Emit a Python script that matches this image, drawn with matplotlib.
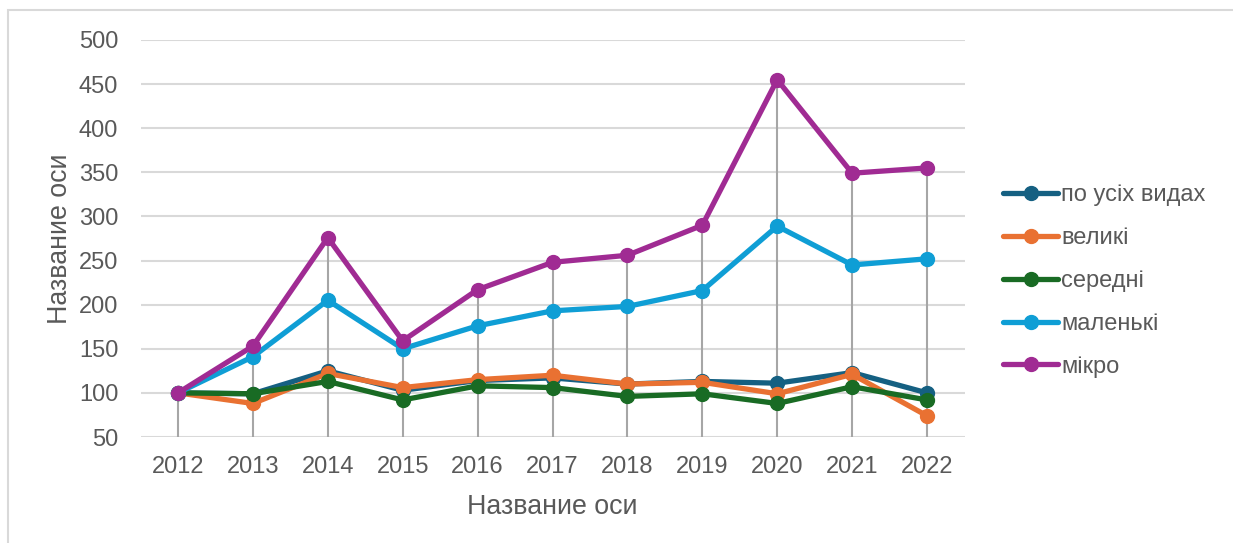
import matplotlib
matplotlib.use("Agg")
import matplotlib.pyplot as plt
import numpy as np
from matplotlib.patches import Rectangle

plt.rcParams['font.family'] = ['Liberation Sans', 'DejaVu Sans']

years = [2012, 2013, 2014, 2015, 2016, 2017, 2018, 2019, 2020, 2021, 2022]
series_names = ["по усіх видах", "великі", "середні", "маленькі", "мікро"]
all_types = [100, 99, 125, 103, 114, 117, 110, 113, 111, 123, 100]
large = [100, 88, 122, 106, 115, 120, 110, 112, 99, 121, 74]
medium = [100, 99, 113, 92, 108, 106, 96, 99, 88, 107, 92]
small = [100, 141, 205, 150, 176, 193, 198, 216, 289, 245, 252]
micro = [100, 153, 276, 159, 217, 248, 256, 290, 455, 349, 355]
colors = ["#156082", "#E97132", "#196B24", "#0F9ED5", "#A02B93"]
y_ticks = [50, 100, 150, 200, 250, 300, 350, 400, 450, 500]
x_title = "Название оси"
y_title = "Название оси"

data = [all_types, large, medium, small, micro]

fig = plt.figure(figsize=(12.33, 5.43), dpi=100)
fig.patches.append(Rectangle((8/1233, -0.1), 1.2, 1 - 10/543 + 0.1, transform=fig.transFigure,
                             fill=False, edgecolor="#D9D9D9", linewidth=1.5))
ax = fig.add_axes([140.5/1233, 1 - 437/543, (964.5-140.5)/1233, (437-40)/543])

x = np.arange(len(years))
tops = np.max(np.array(data), axis=0)
ax.vlines(x, 50, tops, color="#A6A6A6", linewidth=1.5, zorder=1)

for name, vals, c in zip(series_names, data, colors):
    ax.plot(x, vals, color=c, linewidth=3.8, marker='o', markersize=10, label=name,
            zorder=3, solid_capstyle='round', solid_joinstyle='round')

ax.set_xlim(-0.5, len(years) - 0.5)
ax.set_ylim(50, 500)
ax.set_yticks(y_ticks)
ax.set_xticks(x)
ax.set_xticklabels([str(y) for y in years])
ax.grid(axis='y', color="#D9D9D9", linewidth=1.5, zorder=0)
ax.set_axisbelow(True)
for s in ax.spines.values():
    s.set_visible(False)
ax.tick_params(axis='both', length=0, labelsize=17, colors="#595959")
ax.tick_params(axis='y', pad=16)
ax.tick_params(axis='x', pad=14)
ax.set_xlabel(x_title, fontsize=19.3, color="#595959", labelpad=11)
ax.set_ylabel(y_title, fontsize=19.3, color="#595959", labelpad=4)

leg = ax.legend(loc='center left', bbox_to_anchor=(1003/1233, 1 - 281/543), bbox_transform=fig.transFigure,
                frameon=False, fontsize=17, handlelength=2.33, handletextpad=0.13,
                labelspacing=0.88, borderpad=0, borderaxespad=0)
for t in leg.get_texts():
    t.set_color("#595959")

fig.savefig("out.png", dpi=100)
